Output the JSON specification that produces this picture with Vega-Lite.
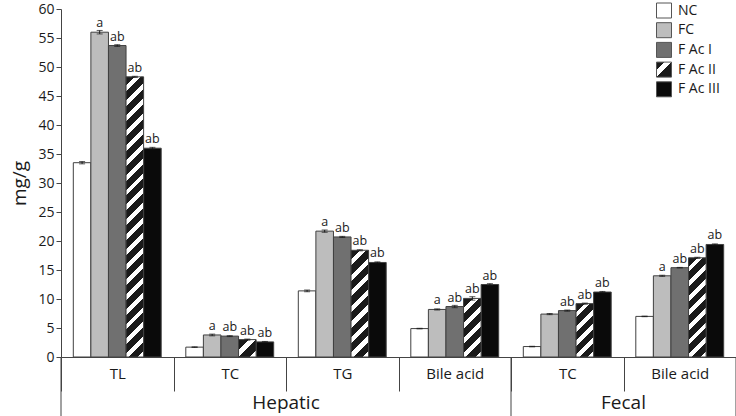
{
"$schema":"https://vega.github.io/schema/vega-lite/v6.json",
"width":675,"height":348,
"autosize":{"type":"none"},
"padding":{"left":61,"top":9,"right":0,"bottom":59},
"config":{"font":"Open Sans","view":{"stroke":null},"axis":{"grid":false},
 "axisY":{"titleFontSize":19,"titleFontWeight":"normal","titleColor":"#1a1a1a","titlePadding":8,"labelFontSize":14,"labelColor":"#1a1a1a","labelPadding":2,"tickSize":5,"tickColor":"#444","domainColor":"#444"},
 "legend":{"orient":"none","legendX":595,"legendY":-6.5,"symbolType":"square","symbolSize":225,"symbolStrokeColor":"#555","symbolStrokeWidth":1,"symbolOpacity":1,"labelFontSize":14,"labelColor":"#1a1a1a","rowPadding":-0.3,"labelOffset":6,"labelFont":"Open Sans"}},
"datasets":{"bars":[
{"cat":"H-TL","series":"NC","value":33.5,"err":0.2,"sig":""},
{"cat":"H-TL","series":"FC","value":56.0,"err":0.3,"sig":"a"},
{"cat":"H-TL","series":"F Ac I","value":53.7,"err":0.15,"sig":"ab"},
{"cat":"H-TL","series":"F Ac II","value":48.3,"err":0.1,"sig":"ab"},
{"cat":"H-TL","series":"F Ac III","value":36.0,"err":0.15,"sig":"ab"},
{"cat":"H-TC","series":"NC","value":1.7,"err":0.05,"sig":""},
{"cat":"H-TC","series":"FC","value":3.8,"err":0.15,"sig":"a"},
{"cat":"H-TC","series":"F Ac I","value":3.6,"err":0.08,"sig":"ab"},
{"cat":"H-TC","series":"F Ac II","value":3.0,"err":0.1,"sig":"ab"},
{"cat":"H-TC","series":"F Ac III","value":2.6,"err":0.08,"sig":"ab"},
{"cat":"H-TG","series":"NC","value":11.4,"err":0.15,"sig":""},
{"cat":"H-TG","series":"FC","value":21.7,"err":0.2,"sig":"a"},
{"cat":"H-TG","series":"F Ac I","value":20.7,"err":0.1,"sig":"ab"},
{"cat":"H-TG","series":"F Ac II","value":18.4,"err":0.1,"sig":"ab"},
{"cat":"H-TG","series":"F Ac III","value":16.3,"err":0.1,"sig":"ab"},
{"cat":"H-BA","series":"NC","value":4.9,"err":0.05,"sig":""},
{"cat":"H-BA","series":"FC","value":8.2,"err":0.1,"sig":"a"},
{"cat":"H-BA","series":"F Ac I","value":8.7,"err":0.2,"sig":"ab"},
{"cat":"H-BA","series":"F Ac II","value":10.1,"err":0.3,"sig":"ab"},
{"cat":"H-BA","series":"F Ac III","value":12.5,"err":0.15,"sig":"ab"},
{"cat":"F-TC","series":"NC","value":1.8,"err":0.05,"sig":""},
{"cat":"F-TC","series":"FC","value":7.4,"err":0.1,"sig":""},
{"cat":"F-TC","series":"F Ac I","value":8.0,"err":0.1,"sig":"ab"},
{"cat":"F-TC","series":"F Ac II","value":9.2,"err":0.1,"sig":"ab"},
{"cat":"F-TC","series":"F Ac III","value":11.2,"err":0.1,"sig":"ab"},
{"cat":"F-BA","series":"NC","value":7.0,"err":0.05,"sig":""},
{"cat":"F-BA","series":"FC","value":14.0,"err":0.1,"sig":"a"},
{"cat":"F-BA","series":"F Ac I","value":15.4,"err":0.05,"sig":"ab"},
{"cat":"F-BA","series":"F Ac II","value":17.1,"err":0.1,"sig":"ab"},
{"cat":"F-BA","series":"F Ac III","value":19.4,"err":0.1,"sig":"ab"}
]},
"data":{"name":"bars"},
"encoding":{
 "x":{"field":"cat","type":"nominal","scale":{"domain":["H-TL","H-TC","H-TG","H-BA","F-TC","F-BA"],"paddingInner":0,"paddingOuter":0},
  "axis":{"title":null,"labelAngle":0,"labelExpr":"{'H-TL':'TL','H-TC':'TC','H-TG':'TG','H-BA':'Bile acid','F-TC':'TC','F-BA':'Bile acid'}[datum.value]","labelFontSize":15,"labelColor":"#1a1a1a","domainColor":"#444","tickColor":"#444","tickBand":"extent","tickSize":34,"labelPadding":-25,"labelBaseline":"top"}}
},
"layer":[
{"data":{"values":[{"cat":"H-TL"},{"cat":"F-TC"}]},"mark":{"type":"rule","color":"#444","strokeWidth":1},
 "encoding":{"x":{"field":"cat","type":"nominal","bandPosition":0},"y":{"datum":0,"type":"quantitative","title":"mg/g","scale":{"domain":[0,60]},"axis":{"values":[0,5,10,15,20,25,30,35,40,45,50,55,60]}},"y2":{"datum":-10.3}}},
{"data":{"values":[{"cat":"F-BA"}]},"mark":{"type":"rule","color":"#444","strokeWidth":1},
 "encoding":{"x":{"field":"cat","type":"nominal","bandPosition":1},"y":{"datum":0,"type":"quantitative","title":"mg/g","scale":{"domain":[0,60]},"axis":{"values":[0,5,10,15,20,25,30,35,40,45,50,55,60]}},"y2":{"datum":-10.3}}},
{"encoding":{"y":{"field":"value","type":"quantitative","title":"mg/g","scale":{"domain":[0,60]},"axis":{"values":[0,5,10,15,20,25,30,35,40,45,50,55,60]}},
  "xOffset":{"field":"series","type":"nominal","scale":{"domain":["NC","FC","F Ac I","F Ac II","F Ac III"],"paddingInner":0,"paddingOuter":0.7}}},
 "layer":[
{"transform":[{"filter":"datum.series !== 'F Ac II'"}],
 "mark":{"type":"bar","stroke":"#404040","strokeWidth":1},
 "encoding":{
  "fill":{"field":"series","type":"nominal","scale":{"domain":["NC","FC","F Ac I","F Ac II","F Ac III"],"range":["#ffffff","#bdbdbd","#707070",{"expr":"{gradient:'linear',x1:0,y1:0,x2:1,y2:1,stops:[{offset:0,color:'#1a1a1a'},{offset:0.25,color:'#1a1a1a'},{offset:0.25,color:'#ffffff'},{offset:0.5,color:'#ffffff'},{offset:0.5,color:'#1a1a1a'},{offset:1,color:'#1a1a1a'}]}"},"#0a0a0a"]},
   "legend":{"title":null,"encoding":{"symbols":{"stroke":{"value":"#555"},"strokeWidth":{"value":1}}}}}}},
{"transform":[{"filter":"datum.series==='F Ac II' && datum.cat==='H-TL'"}],
 "mark":{"type":"bar","stroke":"#404040","strokeWidth":1,"fill":{"gradient":"linear","x1":0,"y1":0,"x2":0.06643,"y2":1.05859,"stops":[
{"offset":0,"color":"#1a1a1a"},{"offset":0.03,"color":"#1a1a1a"},{"offset":0.03,"color":"#fff"},{"offset":0.05,"color":"#fff"},
{"offset":0.05,"color":"#1a1a1a"},{"offset":0.08,"color":"#1a1a1a"},{"offset":0.08,"color":"#fff"},{"offset":0.1,"color":"#fff"},
{"offset":0.1,"color":"#1a1a1a"},{"offset":0.13,"color":"#1a1a1a"},{"offset":0.13,"color":"#fff"},{"offset":0.15,"color":"#fff"},
{"offset":0.15,"color":"#1a1a1a"},{"offset":0.18,"color":"#1a1a1a"},{"offset":0.18,"color":"#fff"},{"offset":0.2,"color":"#fff"},
{"offset":0.2,"color":"#1a1a1a"},{"offset":0.23,"color":"#1a1a1a"},{"offset":0.23,"color":"#fff"},{"offset":0.25,"color":"#fff"},
{"offset":0.25,"color":"#1a1a1a"},{"offset":0.28,"color":"#1a1a1a"},{"offset":0.28,"color":"#fff"},{"offset":0.3,"color":"#fff"},
{"offset":0.3,"color":"#1a1a1a"},{"offset":0.33,"color":"#1a1a1a"},{"offset":0.33,"color":"#fff"},{"offset":0.35,"color":"#fff"},
{"offset":0.35,"color":"#1a1a1a"},{"offset":0.38,"color":"#1a1a1a"},{"offset":0.38,"color":"#fff"},{"offset":0.4,"color":"#fff"},
{"offset":0.4,"color":"#1a1a1a"},{"offset":0.43,"color":"#1a1a1a"},{"offset":0.43,"color":"#fff"},{"offset":0.45,"color":"#fff"},
{"offset":0.45,"color":"#1a1a1a"},{"offset":0.48,"color":"#1a1a1a"},{"offset":0.48,"color":"#fff"},{"offset":0.5,"color":"#fff"},
{"offset":0.5,"color":"#1a1a1a"},{"offset":0.53,"color":"#1a1a1a"},{"offset":0.53,"color":"#fff"},{"offset":0.55,"color":"#fff"},
{"offset":0.55,"color":"#1a1a1a"},{"offset":0.58,"color":"#1a1a1a"},{"offset":0.58,"color":"#fff"},{"offset":0.6,"color":"#fff"},
{"offset":0.6,"color":"#1a1a1a"},{"offset":0.63,"color":"#1a1a1a"},{"offset":0.63,"color":"#fff"},{"offset":0.65,"color":"#fff"},
{"offset":0.65,"color":"#1a1a1a"},{"offset":0.68,"color":"#1a1a1a"},{"offset":0.68,"color":"#fff"},{"offset":0.7,"color":"#fff"},
{"offset":0.7,"color":"#1a1a1a"},{"offset":0.73,"color":"#1a1a1a"},{"offset":0.73,"color":"#fff"},{"offset":0.75,"color":"#fff"},
{"offset":0.75,"color":"#1a1a1a"},{"offset":0.78,"color":"#1a1a1a"},{"offset":0.78,"color":"#fff"},{"offset":0.8,"color":"#fff"},
{"offset":0.8,"color":"#1a1a1a"},{"offset":0.83,"color":"#1a1a1a"},{"offset":0.83,"color":"#fff"},{"offset":0.85,"color":"#fff"},
{"offset":0.85,"color":"#1a1a1a"},{"offset":0.88,"color":"#1a1a1a"},{"offset":0.88,"color":"#fff"},{"offset":0.9,"color":"#fff"},
{"offset":0.9,"color":"#1a1a1a"},{"offset":0.93,"color":"#1a1a1a"},{"offset":0.93,"color":"#fff"},{"offset":0.95,"color":"#fff"},
{"offset":0.95,"color":"#1a1a1a"},{"offset":0.98,"color":"#1a1a1a"},{"offset":0.98,"color":"#fff"},{"offset":1,"color":"#fff"}]}},
 "encoding":{}},
{"transform":[{"filter":"datum.series==='F Ac II' && datum.cat==='H-TC'"}],
 "mark":{"type":"bar","stroke":"#404040","strokeWidth":1,"fill":{"gradient":"linear","x1":0,"y1":0,"x2":1.00498,"y2":0.99469,"stops":[
{"offset":0,"color":"#1a1a1a"},{"offset":0.3,"color":"#1a1a1a"},{"offset":0.3,"color":"#fff"},{"offset":0.5,"color":"#fff"},
{"offset":0.5,"color":"#1a1a1a"},{"offset":0.8,"color":"#1a1a1a"},{"offset":0.8,"color":"#fff"},{"offset":1,"color":"#fff"}]}},
 "encoding":{}},
{"transform":[{"filter":"datum.series==='F Ac II' && datum.cat==='H-TG'"}],
 "mark":{"type":"bar","stroke":"#404040","strokeWidth":1,"fill":{"gradient":"linear","x1":0,"y1":0,"x2":0.18679,"y2":1.13394,"stops":[
{"offset":0,"color":"#1a1a1a"},{"offset":0.075,"color":"#1a1a1a"},{"offset":0.075,"color":"#fff"},{"offset":0.125,"color":"#fff"},
{"offset":0.125,"color":"#1a1a1a"},{"offset":0.2,"color":"#1a1a1a"},{"offset":0.2,"color":"#fff"},{"offset":0.25,"color":"#fff"},
{"offset":0.25,"color":"#1a1a1a"},{"offset":0.325,"color":"#1a1a1a"},{"offset":0.325,"color":"#fff"},{"offset":0.375,"color":"#fff"},
{"offset":0.375,"color":"#1a1a1a"},{"offset":0.45,"color":"#1a1a1a"},{"offset":0.45,"color":"#fff"},{"offset":0.5,"color":"#fff"},
{"offset":0.5,"color":"#1a1a1a"},{"offset":0.575,"color":"#1a1a1a"},{"offset":0.575,"color":"#fff"},{"offset":0.625,"color":"#fff"},
{"offset":0.625,"color":"#1a1a1a"},{"offset":0.7,"color":"#1a1a1a"},{"offset":0.7,"color":"#fff"},{"offset":0.75,"color":"#fff"},
{"offset":0.75,"color":"#1a1a1a"},{"offset":0.825,"color":"#1a1a1a"},{"offset":0.825,"color":"#fff"},{"offset":0.875,"color":"#fff"},
{"offset":0.875,"color":"#1a1a1a"},{"offset":0.95,"color":"#1a1a1a"},{"offset":0.95,"color":"#fff"},{"offset":1,"color":"#fff"}]}},
 "encoding":{}},
{"transform":[{"filter":"datum.series==='F Ac II' && datum.cat==='H-BA'"}],
 "mark":{"type":"bar","stroke":"#404040","strokeWidth":1,"fill":{"gradient":"linear","x1":0,"y1":0,"x2":0.35793,"y2":1.19269,"stops":[
{"offset":0,"color":"#1a1a1a"},{"offset":0.12,"color":"#1a1a1a"},{"offset":0.12,"color":"#fff"},{"offset":0.2,"color":"#fff"},
{"offset":0.2,"color":"#1a1a1a"},{"offset":0.32,"color":"#1a1a1a"},{"offset":0.32,"color":"#fff"},{"offset":0.4,"color":"#fff"},
{"offset":0.4,"color":"#1a1a1a"},{"offset":0.52,"color":"#1a1a1a"},{"offset":0.52,"color":"#fff"},{"offset":0.6,"color":"#fff"},
{"offset":0.6,"color":"#1a1a1a"},{"offset":0.72,"color":"#1a1a1a"},{"offset":0.72,"color":"#fff"},{"offset":0.8,"color":"#fff"},
{"offset":0.8,"color":"#1a1a1a"},{"offset":0.92,"color":"#1a1a1a"},{"offset":0.92,"color":"#fff"},{"offset":1,"color":"#fff"}]}},
 "encoding":{}},
{"transform":[{"filter":"datum.series==='F Ac II' && datum.cat==='F-TC'"}],
 "mark":{"type":"bar","stroke":"#404040","strokeWidth":1,"fill":{"gradient":"linear","x1":0,"y1":0,"x2":0.39511,"y2":1.19927,"stops":[
{"offset":0,"color":"#1a1a1a"},{"offset":0.12,"color":"#1a1a1a"},{"offset":0.12,"color":"#fff"},{"offset":0.2,"color":"#fff"},
{"offset":0.2,"color":"#1a1a1a"},{"offset":0.32,"color":"#1a1a1a"},{"offset":0.32,"color":"#fff"},{"offset":0.4,"color":"#fff"},
{"offset":0.4,"color":"#1a1a1a"},{"offset":0.52,"color":"#1a1a1a"},{"offset":0.52,"color":"#fff"},{"offset":0.6,"color":"#fff"},
{"offset":0.6,"color":"#1a1a1a"},{"offset":0.72,"color":"#1a1a1a"},{"offset":0.72,"color":"#fff"},{"offset":0.8,"color":"#fff"},
{"offset":0.8,"color":"#1a1a1a"},{"offset":0.92,"color":"#1a1a1a"},{"offset":0.92,"color":"#fff"},{"offset":1,"color":"#fff"}]}},
 "encoding":{}},
{"transform":[{"filter":"datum.series==='F Ac II' && datum.cat==='F-BA'"}],
 "mark":{"type":"bar","stroke":"#404040","strokeWidth":1,"fill":{"gradient":"linear","x1":0,"y1":0,"x2":0.20231,"y2":1.1414,"stops":[
{"offset":0,"color":"#1a1a1a"},{"offset":0.075,"color":"#1a1a1a"},{"offset":0.075,"color":"#fff"},{"offset":0.125,"color":"#fff"},
{"offset":0.125,"color":"#1a1a1a"},{"offset":0.2,"color":"#1a1a1a"},{"offset":0.2,"color":"#fff"},{"offset":0.25,"color":"#fff"},
{"offset":0.25,"color":"#1a1a1a"},{"offset":0.325,"color":"#1a1a1a"},{"offset":0.325,"color":"#fff"},{"offset":0.375,"color":"#fff"},
{"offset":0.375,"color":"#1a1a1a"},{"offset":0.45,"color":"#1a1a1a"},{"offset":0.45,"color":"#fff"},{"offset":0.5,"color":"#fff"},
{"offset":0.5,"color":"#1a1a1a"},{"offset":0.575,"color":"#1a1a1a"},{"offset":0.575,"color":"#fff"},{"offset":0.625,"color":"#fff"},
{"offset":0.625,"color":"#1a1a1a"},{"offset":0.7,"color":"#1a1a1a"},{"offset":0.7,"color":"#fff"},{"offset":0.75,"color":"#fff"},
{"offset":0.75,"color":"#1a1a1a"},{"offset":0.825,"color":"#1a1a1a"},{"offset":0.825,"color":"#fff"},{"offset":0.875,"color":"#fff"},
{"offset":0.875,"color":"#1a1a1a"},{"offset":0.95,"color":"#1a1a1a"},{"offset":0.95,"color":"#fff"},{"offset":1,"color":"#fff"}]}},
 "encoding":{}},
{"mark":{"type":"errorbar","color":"#1a1a1a","ticks":{"size":6}},
 "encoding":{"yError":{"field":"err"}}},
{"mark":{"type":"text","baseline":"alphabetic","dy":-5,"fontSize":12.5,"color":"#1a1a1a"},
 "encoding":{"text":{"field":"sig"}}}
 ]},
{"data":{"values":[{"cat":"H-TG","label":"Hepatic"},{"cat":"F-BA","label":"Fecal"}]},
 "mark":{"type":"text","fontSize":19,"baseline":"middle","color":"#1a1a1a"},
 "encoding":{"x":{"field":"cat","type":"nominal","bandPosition":0},"y":{"datum":-7.9,"type":"quantitative","title":"mg/g","scale":{"domain":[0,60]},"axis":{"values":[0,5,10,15,20,25,30,35,40,45,50,55,60]}},"text":{"field":"label"}}}
]
}
